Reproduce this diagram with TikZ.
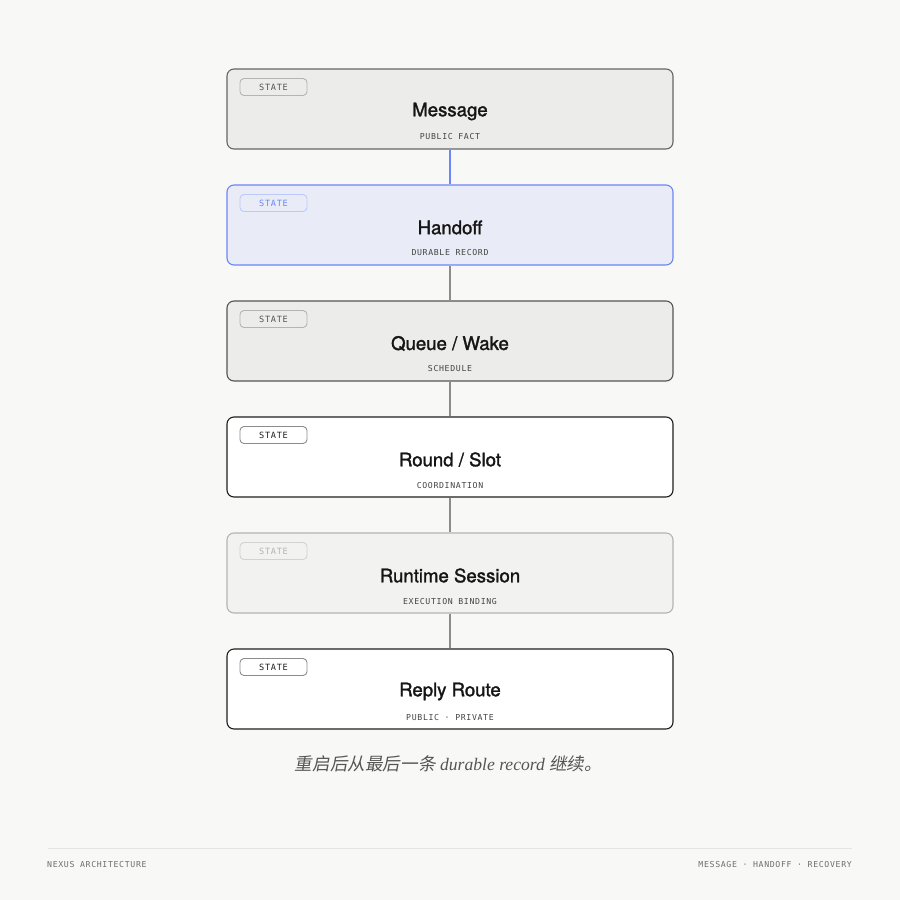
\documentclass[tikz,border=0pt]{standalone}
\usepackage{fontspec}
\setmainfont{Liberation Serif}
\setsansfont{TeX Gyre Heros}
\setmonofont{DejaVu Sans Mono}[Scale=1]
\newfontfamily\monosp{DejaVu Sans Mono}[LetterSpace=8]
\newfontfamily\titlefont{TeX Gyre Heros}[FakeBold=1.6]
\newfontfamily\cjk{Noto Sans CJK SC}[FakeSlant=0.18]
\definecolor{bg}{HTML}{F8F8F6}
\definecolor{fillA}{HTML}{ECECEA}
\definecolor{fillB}{HTML}{E9ECF6}
\definecolor{fillE}{HTML}{F2F2F1}
\definecolor{blueE}{HTML}{6B86F7}
\definecolor{darkE}{HTML}{555555}
\definecolor{blackE}{HTML}{1E1E1E}
\definecolor{lightE}{HTML}{B4B4B2}
\definecolor{connE}{HTML}{8C8C8A}
\definecolor{txtE}{HTML}{151515}
\definecolor{subE}{HTML}{444444}
\definecolor{footE}{HTML}{6E6E6C}
\begin{document}
\begin{tikzpicture}[x=1pt,y=-1pt,
  card/.style={draw, rounded corners=7pt, line width=1.1pt, minimum width=446pt, minimum height=80pt, inner sep=0pt},
  badge/.style={draw, rounded corners=4pt, line width=0.9pt, minimum width=67pt, minimum height=17pt, inner sep=0pt, font=\monosp\fontsize{8.6}{9}\selectfont},
  ttl/.style={font=\titlefont\fontsize{18.6}{20}\selectfont, text=txtE},
  sub/.style={font=\monosp\fontsize{8.2}{9}\selectfont, text=subE},
  conn/.style={line width=1.2pt, draw=connE},
  foot/.style={font=\monosp\fontsize{8.2}{9}\selectfont, text=footE}
]
\fill[bg] (0,0) rectangle (900,900);
\useasboundingbox (0,0) rectangle (900,900);

% cards
\node[card, fill=fillA, draw=darkE!90] (c1) at (450,109) {};
\node[card, fill=fillB, draw=blueE] (c2) at (450,225) {};
\node[card, fill=fillA, draw=darkE] (c3) at (450,341) {};
\node[card, fill=white, draw=blackE] (c4) at (450,457) {};
\node[card, fill=fillE, draw=lightE] (c5) at (450,573) {};
\node[card, fill=white, draw=blackE] (c6) at (450,689) {};

% connectors
\draw[conn, draw=blueE] (c1.south) -- (c2.north);
\draw[conn] (c2.south) -- (c3.north);
\draw[conn] (c3.south) -- (c4.north);
\draw[conn] (c4.south) -- (c5.north);
\draw[conn] (c5.south) -- (c6.north);

% badges
\node[badge, fill=fillA, draw=lightE, text=darkE] (b1) at (273.5,87) {STATE};
\node[badge, fill=fillB, draw=blueE!45, text=blueE] (b2) at (273.5,203) {STATE};
\node[badge, fill=fillA, draw=lightE, text=darkE] (b3) at (273.5,319) {STATE};
\node[badge, fill=white, draw=connE, text=blackE] (b4) at (273.5,435) {STATE};
\node[badge, fill=fillE, draw=lightE!60, text=lightE] (b5) at (273.5,551) {STATE};
\node[badge, fill=white, draw=connE, text=blackE] (b6) at (273.5,667) {STATE};

% titles
\node[ttl] (t1) at (450,111.5) {Message};
\node[ttl] (t2) at (450,227.5) {Handoff};
\node[ttl] (t3) at (450,343.5) {Queue / Wake};
\node[ttl] (t4) at (450,459.5) {Round / Slot};
\node[ttl] (t5) at (450,575.5) {Runtime Session};
\node[ttl] (t6) at (450,691.5) {Reply Route};

% subtitles
\node[sub] (s1) at (450,137) {PUBLIC FACT};
\node[sub] (s2) at (450,253) {DURABLE RECORD};
\node[sub] (s3) at (450,369) {SCHEDULE};
\node[sub] (s4) at (450,485.5) {COORDINATION};
\node[sub] (s5) at (450,601.5) {EXECUTION BINDING};
\node[sub] (s6) at (450,717.5) {PUBLIC · PRIVATE};

% caption
\node[text=darkE, font=\fontsize{17.6}{20}\selectfont] (cap) at (448.5,764)
  {{\cjk 重启后从最后一条} {\itshape durable record} {\cjk 继续。}};

% footer
\coordinate (fl) at (48,848.5);
\coordinate (fr) at (852,848.5);
\draw[line width=1pt, draw=black!10] (fl) -- (fr);
\node[foot, anchor=west, inner sep=0pt] (f1) at (47,865) {NEXUS ARCHITECTURE};
\node[foot, anchor=east, inner sep=0pt] (f2) at (852,865) {MESSAGE · HANDOFF · RECOVERY};
\end{tikzpicture}
\end{document}
